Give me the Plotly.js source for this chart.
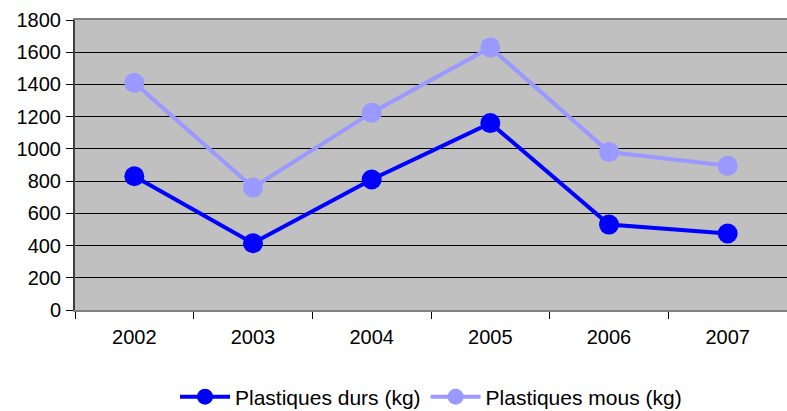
<!DOCTYPE html>
<html>
<head>
<meta charset="utf-8">
<script src="https://cdn.plot.ly/plotly-3.0.1.min.js"></script>
<style>html,body{margin:0;padding:0;background:#fff;overflow:hidden;}#chart{width:787px;height:411px;}</style>
</head>
<body>
<div id="chart"></div>
<script>
var years = ['2002', '2003', '2004', '2005', '2006', '2007'];
var durs = [830, 415, 810, 1160, 530, 475];
var mous = [1410, 760, 1225, 1630, 980, 895];
var seriesNames = ['Plastiques durs (kg)', 'Plastiques mous (kg)'];
var yTicks = [0, 200, 400, 600, 800, 1000, 1200, 1400, 1600, 1800];

var traces = [
  {x: years, y: durs, name: seriesNames[0], type: 'scatter', mode: 'lines+markers',
   line: {color: '#0000FF', width: 4}, marker: {color: '#0000FF', size: 20}, cliponaxis: false},
  {x: years, y: mous, name: seriesNames[1], type: 'scatter', mode: 'lines+markers',
   line: {color: '#9999FF', width: 4}, marker: {color: '#9999FF', size: 20}, cliponaxis: false}
];

var layout = {
  width: 787, height: 411,
  margin: {l: 75, r: 0, t: 20, b: 101, autoexpand: false},
  paper_bgcolor: '#FFFFFF',
  plot_bgcolor: '#C0C0C0',
  font: {family: '"Liberation Sans", Arial, sans-serif', size: 20, color: '#000'},
  showlegend: true,
  legend: {orientation: 'h', x: 0.5, xanchor: 'center', y: -0.3, yanchor: 'middle',
           font: {size: 21}, tracegroupgap: 0, itemwidth: 50},
  xaxis: {type: 'category', range: [-0.5, 5.5], showgrid: false, showline: true, linecolor: '#808080', linewidth: 2,
          mirror: true, ticks: 'outside', tickson: 'boundaries', ticklen: 7, tickcolor: '#000',
          tickfont: {size: 20}, ticklabelstandoff: 8, zeroline: false, automargin: false},
  yaxis: {range: [0, 1800], tickvals: yTicks, ticktext: yTicks.map(String), showgrid: true,
          gridcolor: '#000', gridwidth: 1, showline: true, linecolor: '#404040', linewidth: 2,
          ticks: 'outside', ticklen: 7, tickcolor: '#000', tickfont: {size: 20}, ticklabelstandoff: 1,
          zeroline: false, automargin: false}
};

Plotly.newPlot('chart', traces, layout, {displayModeBar: false, staticPlot: true});
</script>
</body>
</html>
